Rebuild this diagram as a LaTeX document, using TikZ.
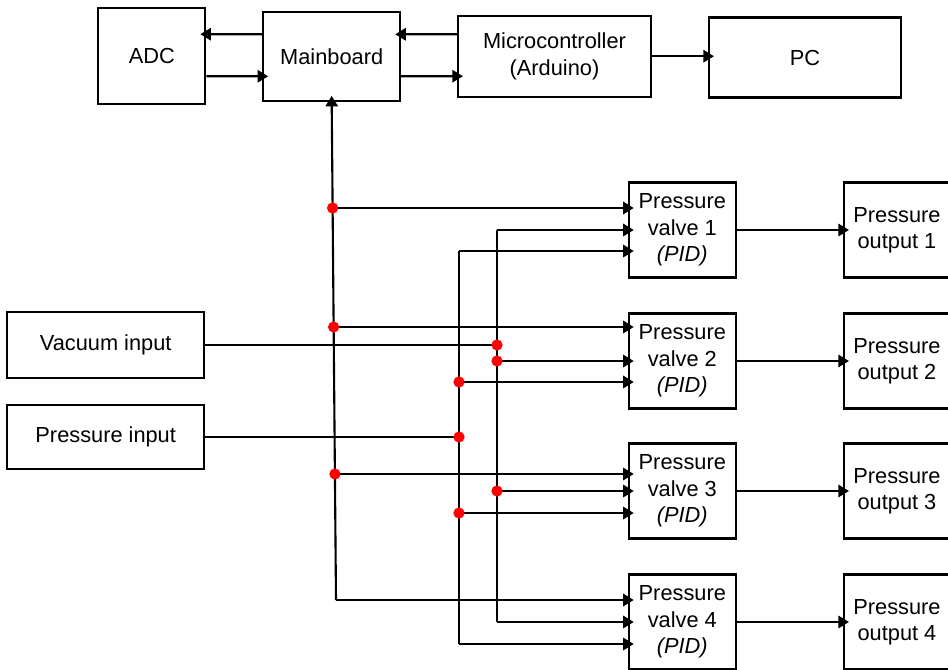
\documentclass[tikz,border=0pt]{standalone}
\usepackage{fontspec}
\setmainfont{Liberation Sans}
\usetikzlibrary{calc,arrows.meta,positioning}
\tikzset{block/.style={draw, line width=1.2pt, rectangle, align=center, inner sep=0pt, font=\fontsize{12.4}{15}\selectfont},
  link/.style={line width=1.2pt, -{Triangle[length=6pt,width=7pt]}, shorten >=-3.4pt},
  wire/.style={line width=1.2pt},
  joint/.style={circle, fill=red, inner sep=0pt, minimum size=6.4pt}}

\begin{document}
\begin{tikzpicture}[x=0.02cm, y=-0.02cm]
    \useasboundingbox (0,0) rectangle (948,670);
    % top row
    \node[block, minimum width=2.14cm, minimum height=1.92cm] (adc) at (151.8,56.2) {ADC};
    \node[block, minimum width=2.74cm, minimum height=1.78cm] (main) at (331.7,56.3) {Mainboard};
    \node[block, minimum width=3.86cm, minimum height=1.62cm] (micro) at (554.5,56.2) {Microcontroller\\(Arduino)};
    \node[block, minimum width=3.84cm, minimum height=1.60cm] (pc) at (805,57.5) {PC};
    % inputs
    \node[block, minimum width=3.94cm, minimum height=1.32cm] (vac) at (105.7,345) {Vacuum input};
    \node[block, minimum width=3.94cm, minimum height=1.28cm] (pin) at (105.7,437) {Pressure input};
    % valves and outputs
    \node[block, minimum width=2.14cm, minimum height=1.9cm] (v1) at (682.3,230) {Pressure\\valve 1\\\textit{(PID)}};
    \node[block, minimum width=2.14cm, minimum height=1.9cm] (v2) at (682.3,361) {Pressure\\valve 2\\\textit{(PID)}};
    \node[block, minimum width=2.14cm, minimum height=1.9cm] (v3) at (682.3,491) {Pressure\\valve 3\\\textit{(PID)}};
    \node[block, minimum width=2.14cm, minimum height=1.9cm] (v4) at (682.3,622) {Pressure\\valve 4\\\textit{(PID)}};
    \node[block, minimum width=2.12cm, minimum height=1.9cm] (o1) at (897,230) {Pressure\\output 1};
    \node[block, minimum width=2.12cm, minimum height=1.9cm] (o2) at (897,361) {Pressure\\output 2};
    \node[block, minimum width=2.12cm, minimum height=1.9cm] (o3) at (897,491) {Pressure\\output 3};
    \node[block, minimum width=2.12cm, minimum height=1.9cm] (o4) at (897,622) {Pressure\\output 4};

    % top links
    \draw[link] ($(main.west)+(0,-22)$) -- ($(adc.east)+(0,-22)$);
    \draw[link] ($(adc.east)+(0,20)$) -- ($(main.west)+(0,20)$);
    \draw[link] ($(micro.west)+(0,-22)$) -- ($(main.east)+(0,-22)$);
    \draw[link] ($(main.east)+(0,20)$) -- ($(micro.west)+(0,20)$);
    \draw[link] (micro.east) -- (micro.east -| pc.west);

    % mainboard bus
    \coordinate (m1) at (332.6,208);
    \coordinate (m2) at (333.6,327);
    \coordinate (m3) at (334.9,474);
    \coordinate (m4) at (336,600);
    \draw[link] (m4) -- (main.south);
    \draw[link] (m1) -- (m1 -| v1.west);
    \draw[link] (m2) -- (m2 -| v2.west);
    \draw[link] (m3) -- (m3 -| v3.west);
    \draw[link] (m4) -- (m4 -| v4.west);

    % vacuum bus
    \coordinate (vj) at (497,345);
    \draw[wire] (vac.east) -- (vj);
    \draw[wire] (vj |- v1.west) -- (vj |- v4.west);
    \draw[link] (vj |- v1.west) -- (v1.west);
    \draw[link] (vj |- v2.west) -- (v2.west);
    \draw[link] (vj |- v3.west) -- (v3.west);
    \draw[link] (vj |- v4.west) -- (v4.west);

    % pressure bus
    \coordinate (pj) at (459,437);
    \coordinate (p1) at ($(v1.west)+(0,21)$);
    \coordinate (p2) at ($(v2.west)+(0,21)$);
    \coordinate (p3) at ($(v3.west)+(0,22)$);
    \coordinate (p4) at ($(v4.west)+(0,22)$);
    \draw[wire] (pin.east) -- (pj);
    \draw[wire] (pj |- p1) -- (pj |- p4);
    \draw[link] (pj |- p1) -- (p1);
    \draw[link] (pj |- p2) -- (p2);
    \draw[link] (pj |- p3) -- (p3);
    \draw[link] (pj |- p4) -- (p4);

    % valve outputs
    \draw[link] (v1.east) -- (o1.west);
    \draw[link] (v2.east) -- (o2.west);
    \draw[link] (v3.east) -- (o3.west);
    \draw[link] (v4.east) -- (o4.west);

    % junction dots
    \node[joint] (d1) at (m1) {};
    \node[joint] (d2) at (m2) {};
    \node[joint] (d3) at (m3) {};
    \node[joint] (d4) at (vj) {};
    \node[joint] (d5) at (vj |- v2.west) {};
    \node[joint] (d6) at (vj |- v3.west) {};
    \node[joint] (d7) at (pj) {};
    \node[joint] (d8) at (pj |- p2) {};
    \node[joint] (d9) at (pj |- p3) {};
\end{tikzpicture}
\end{document}
